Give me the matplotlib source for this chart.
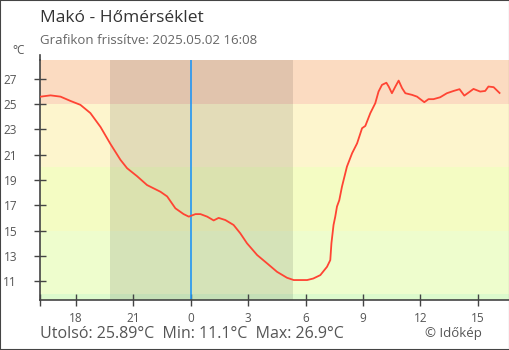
import matplotlib
matplotlib.use("Agg")
import matplotlib.pyplot as plt
from matplotlib.patches import Rectangle
from matplotlib.lines import Line2D

plt.rcParams['font.family'] = ['Open Sans', 'DejaVu Sans']

# hours relative to midnight (2025.05.02 00:00), temperature in °C
hours = [-7.83, -7.32, -6.80, -6.28, -5.76, -5.24, -4.71, -4.19, -3.67, -3.32,
         -2.80, -2.28, -1.58, -1.23, -0.80, -0.37, -0.10, 0.25, 0.51, 0.86,
         1.20, 1.46, 1.81, 2.24, 2.59, 2.94, 3.47, 3.99, 4.51, 5.03,
         5.38, 6.08, 6.40, 6.77, 7.12, 7.29, 7.35, 7.41, 7.46, 7.55,
         7.64, 7.76, 7.90, 8.16, 8.43, 8.69, 8.95, 9.12, 9.38, 9.64,
         9.81, 9.99, 10.22, 10.34, 10.51, 10.69, 10.86, 11.04, 11.21, 11.56,
         11.82, 12.20, 12.42, 12.68, 13.03, 13.38, 13.73, 14.04, 14.29, 14.51,
         14.77, 15.12, 15.38, 15.55, 15.82, 16.13]
temps = [25.6, 25.7, 25.6, 25.26, 24.95, 24.3, 23.2, 21.85, 20.6, 19.93,
         19.3, 18.6, 18.07, 17.7, 16.76, 16.3, 16.1, 16.3, 16.3, 16.1,
         15.8, 16.0, 15.83, 15.44, 14.78, 13.99, 13.06, 12.4, 11.73, 11.26,
         11.08, 11.08, 11.2, 11.47, 12.13, 12.66, 13.99, 14.78, 15.44, 16.1,
         16.9, 17.4, 18.47, 20.06, 21.12, 21.9, 23.1, 23.28, 24.29, 25.08,
         26.0, 26.53, 26.7, 26.4, 25.87, 26.4, 26.87, 26.27, 25.87, 25.74,
         25.6, 25.16, 25.4, 25.4, 25.55, 25.87, 26.05, 26.19, 25.68, 25.92,
         26.21, 26.0, 26.05, 26.4, 26.35, 25.89]

tick_hours = [-6, -3, 0, 3, 6, 9, 12, 15]
tick_labels = ['18', '21', '0', '3', '6', '9', '12', '15']
y_ticks = [11, 13, 15, 17, 19, 21, 23, 25, 27]

bands = [(0, 10, '#dcfacc'), (10, 15, '#eefdcd'), (15, 20, '#f4fcc3'),
         (20, 25, '#fdf5cd'), (25, 40, '#fbdbc1')]
sunset, sunrise = -4.19, 5.35

W, H = 510, 350
fig = plt.figure(figsize=(W / 100, H / 100), dpi=100)
ax = fig.add_axes([40 / W, 50 / H, 469.5 / W, 240 / H])

for lo, hi, c in bands:
    ax.axhspan(lo, hi, color=c, lw=0, zorder=0)
ax.axvspan(sunset, sunrise, color='black', alpha=0.1, lw=0, zorder=1)
ax.axvline(0, color='#2196f3', lw=1.2, zorder=2)
ax.plot(hours, temps, color='#ff4433', lw=1.3, zorder=3)

ax.set_xlim(-7.87, 16.65)
ax.set_ylim(9.5, 28.5)
ax.set_xticks(tick_hours)
ax.set_xticklabels(tick_labels)
ax.set_xticks([-7.87], minor=True)
ax.set_yticks(y_ticks)
ax.tick_params(axis='both', direction='inout', length=9, width=1, color='#444444',
               labelsize=8.5, labelcolor='#555555')
ax.tick_params(axis='x', which='minor', direction='inout', length=9, width=1, color='#444444')
ax.tick_params(axis='y', pad=12)
ax.tick_params(axis='x', pad=4)
for s in ['top', 'right']:
    ax.spines[s].set_visible(False)
for s in ['left', 'bottom']:
    ax.spines[s].set_color('#444444')
    ax.spines[s].set_linewidth(1.2)

# left axis line sticks out a little above the plot
fig.add_artist(Line2D([40.3 / W, 40.3 / W], [1 - 55 / H, 1 - 60 / H], color='#444444', lw=1.2))

def fx(x):
    return x / W

def fy(y):
    return 1 - y / H

fig.text(fx(40), fy(18), 'Makó - Hőmérséklet', fontsize=12.5, color='#333333', va='center')
fig.text(fx(40), fy(40), 'Grafikon frissítve: 2025.05.02 16:08', fontsize=9.5, color='#666666', va='center')
fig.text(fx(12), fy(50), '°C', fontsize=8.5, color='#555555', va='center')
fig.text(fx(40), fy(334), 'Utolsó: 25.89°C  Min: 11.1°C  Max: 26.9°C', fontsize=11.5,
         color='#555555', va='center')
fig.text(fx(425), fy(333), '© Időkép', fontsize=9.5, color='#555555', va='center')

fig.add_artist(Rectangle((0, 0), 1, 1, transform=fig.transFigure, fill=False,
                         edgecolor='#444444', lw=1.5))

fig.savefig('out.png', dpi=100)
